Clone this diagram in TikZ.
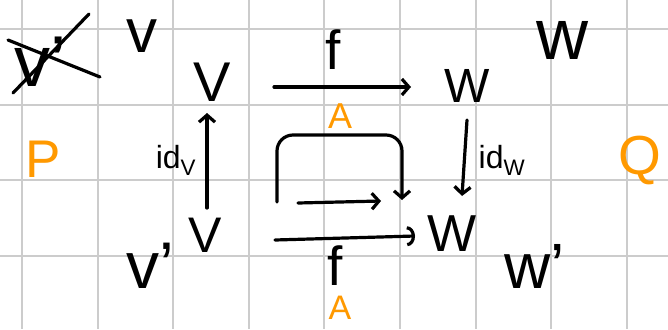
\documentclass[tikz,border=0pt]{standalone}
\usepackage{fontspec}
\setmainfont{Liberation Sans}
\usetikzlibrary{arrows.meta}
\definecolor{gridc}{HTML}{CCCCCC}
\definecolor{org}{HTML}{FF9900}
\tikzset{
  gridline/.style={draw=gridc, line width=2pt},
  ink/.style={draw=black, line width=3.2pt, line cap=round, line join=round},
  arr/.style={ink, -{Straight Barb[length=7pt,width=16pt,line width=3.2pt]}},
  hookarr/.style={ink, -{Arc Barb[length=8pt,width=20pt,line width=3.2pt]}},
  lbl/.style={inner sep=0pt, text=black},
  olbl/.style={inner sep=0pt, text=org},
}
\newcommand{\fs}[1]{\fontsize{#1}{#1}\selectfont}
\begin{document}
\begin{tikzpicture}[x=1pt,y=-1pt]
\useasboundingbox (0,0) rectangle (668,329);
\fill[white] (0,0) rectangle (668,329);
% grid
\foreach \i in {0,...,8} \draw[gridline] (22+75.6*\i,0) -- (22+75.6*\i,329);
\foreach \j in {0,...,3} \draw[gridline] (0,29+75.6*\j) -- (668,29+75.6*\j);
% labels
\node[lbl, font=\fs{72}] (vx) at (40,62) {v'};
\draw[ink] (8,40) -- (100,77);
\draw[ink] (13,93) -- (89,14);
\node[lbl, font=\fs{62}] (vtop) at (142,36) {v};
\node[lbl, font=\fs{56}] (V1) at (212,82) {V};
\node[lbl, font=\fs{48}] (W1) at (467,86) {W};
\node[lbl, font=\fs{72}] (wtop) at (562,40) {w};
\node[lbl, font=\fs{55}] (f1) at (333,50) {f};
\node[olbl, font=\fs{36}] (A1) at (340,116) {A};
\node[lbl, font=\fs{32}] (idV) at (176,160) {id$_{\mathrm{V}}$};
\node[lbl, font=\fs{32}] (idW) at (502,160) {id$_{\mathrm{W}}$};
\node[olbl, font=\fs{53}] (P) at (43,159) {P};
\node[olbl, font=\fs{55}] (Q) at (640,160) {Q};
\node[lbl, font=\fs{50}] (V2) at (205,235) {V};
\node[lbl, font=\fs{52}] (W2) at (452,234) {W};
\node[lbl, font=\fs{55}] (f2) at (335,266) {f};
\node[olbl, font=\fs{34}] (A2) at (340,308) {A};
\node[lbl, font=\fs{66}] (vb) at (150,266) {v'};
\node[lbl, font=\fs{64}] (wb) at (535,266) {w'};
% connector ends
\coordinate (fa) at (274,87);  \coordinate (fb) at (411,87);
\coordinate (ga) at (275,240); \coordinate (gb) at (415,236);
\coordinate (ma) at (298,203); \coordinate (mb) at (381,201);
\coordinate (ba) at (277,202); \coordinate (bb) at (402,200);
\coordinate (ia) at (207,208); \coordinate (ib) at (207,113);
\coordinate (ja) at (467,120); \coordinate (jb) at (462,196);
% connectors
\draw[arr] (fa) -- (fb);
\draw[hookarr] (ga) -- (gb);
\draw[arr] (ma) -- (mb);
\draw[arr, rounded corners=16pt] (ba) -- (277,135) -- (402,135) -- (bb);
\draw[arr] (ia) -- (ib);
\draw[arr] (ja) -- (jb);
\end{tikzpicture}
\end{document}
